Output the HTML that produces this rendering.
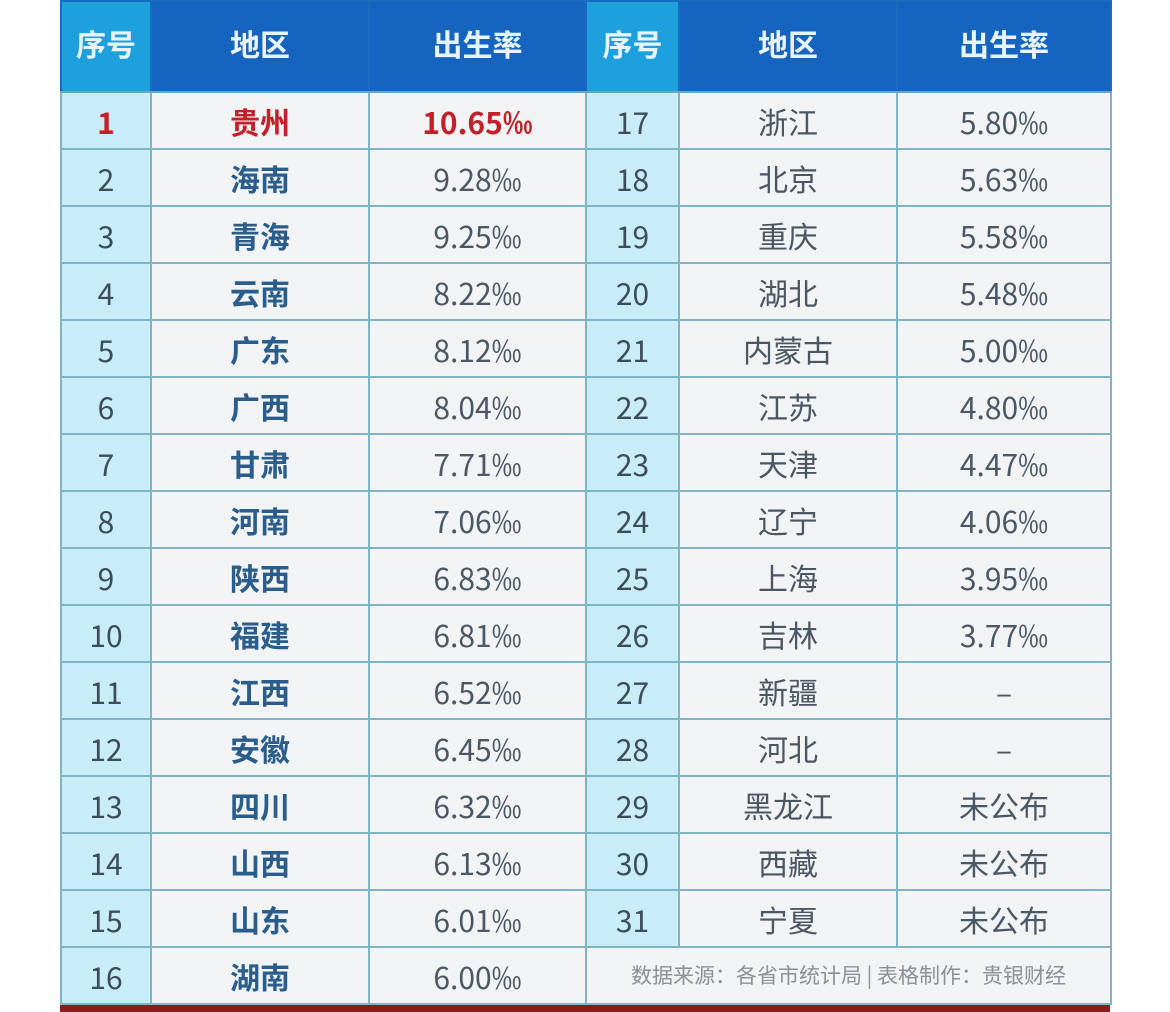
<!DOCTYPE html>
<html><head><meta charset="utf-8"><style>
body{margin:0;width:1170px;height:1012px;background:#fff;overflow:hidden;font-family:"Noto Sans CJK SC","Liberation Sans",sans-serif}
.t{position:absolute;left:60px;top:0;width:1050px}
table{border-collapse:collapse;table-layout:fixed;width:1050px}
td,th{text-align:center;padding:0;border:2px solid #7fb5c3;line-height:1}
th{height:91px;background:#1565c0;color:#e8f4fb;font-size:30px;font-weight:bold;border-color:#1a6cc0;border-bottom:2px solid #6aa8b8;padding-bottom:8px;box-sizing:border-box}
th.n{background:#1ea0dc}
td{height:55px;background:#f1f3f4;color:#4a5866;font-size:30px}
td.n{background:#c8ecf8;color:#3d4c5a}
td.r{color:#2a5d8c;font-weight:bold}
td.r2{color:#4a5662}
.red{color:#c4202a!important;font-weight:bold}
.f{font-size:21px;color:#8a9096;text-align:center}
.bar{position:absolute;left:60px;top:1005px;width:1050px;height:7px;background:#8a1c1c}
</style></head><body>
<div class="t"><table>
<colgroup><col style="width:90px"><col style="width:218px"><col style="width:217px"><col style="width:93px"><col style="width:218px"><col style="width:214px"></colgroup>
<tr><th class="n">序号</th><th>地区</th><th>出生率</th><th class="n">序号</th><th>地区</th><th>出生率</th></tr>
<tr><td class="n red">1</td><td class="r red">贵州</td><td class="red">10.65‰</td><td class="n">17</td><td class="r2">浙江</td><td>5.80‰</td></tr>
<tr><td class="n">2</td><td class="r">海南</td><td>9.28‰</td><td class="n">18</td><td class="r2">北京</td><td>5.63‰</td></tr>
<tr><td class="n">3</td><td class="r">青海</td><td>9.25‰</td><td class="n">19</td><td class="r2">重庆</td><td>5.58‰</td></tr>
<tr><td class="n">4</td><td class="r">云南</td><td>8.22‰</td><td class="n">20</td><td class="r2">湖北</td><td>5.48‰</td></tr>
<tr><td class="n">5</td><td class="r">广东</td><td>8.12‰</td><td class="n">21</td><td class="r2">内蒙古</td><td>5.00‰</td></tr>
<tr><td class="n">6</td><td class="r">广西</td><td>8.04‰</td><td class="n">22</td><td class="r2">江苏</td><td>4.80‰</td></tr>
<tr><td class="n">7</td><td class="r">甘肃</td><td>7.71‰</td><td class="n">23</td><td class="r2">天津</td><td>4.47‰</td></tr>
<tr><td class="n">8</td><td class="r">河南</td><td>7.06‰</td><td class="n">24</td><td class="r2">辽宁</td><td>4.06‰</td></tr>
<tr><td class="n">9</td><td class="r">陕西</td><td>6.83‰</td><td class="n">25</td><td class="r2">上海</td><td>3.95‰</td></tr>
<tr><td class="n">10</td><td class="r">福建</td><td>6.81‰</td><td class="n">26</td><td class="r2">吉林</td><td>3.77‰</td></tr>
<tr><td class="n">11</td><td class="r">江西</td><td>6.52‰</td><td class="n">27</td><td class="r2">新疆</td><td>–</td></tr>
<tr><td class="n">12</td><td class="r">安徽</td><td>6.45‰</td><td class="n">28</td><td class="r2">河北</td><td>–</td></tr>
<tr><td class="n">13</td><td class="r">四川</td><td>6.32‰</td><td class="n">29</td><td class="r2">黑龙江</td><td>未公布</td></tr>
<tr><td class="n">14</td><td class="r">山西</td><td>6.13‰</td><td class="n">30</td><td class="r2">西藏</td><td>未公布</td></tr>
<tr><td class="n">15</td><td class="r">山东</td><td>6.01‰</td><td class="n">31</td><td class="r2">宁夏</td><td>未公布</td></tr>
<tr><td class="n">16</td><td class="r">湖南</td><td>6.00‰</td><td colspan="3" class="f">数据来源：各省市统计局 | 表格制作：贵银财经</td></tr>
</table></div>
<div class="bar"></div>
</body></html>
